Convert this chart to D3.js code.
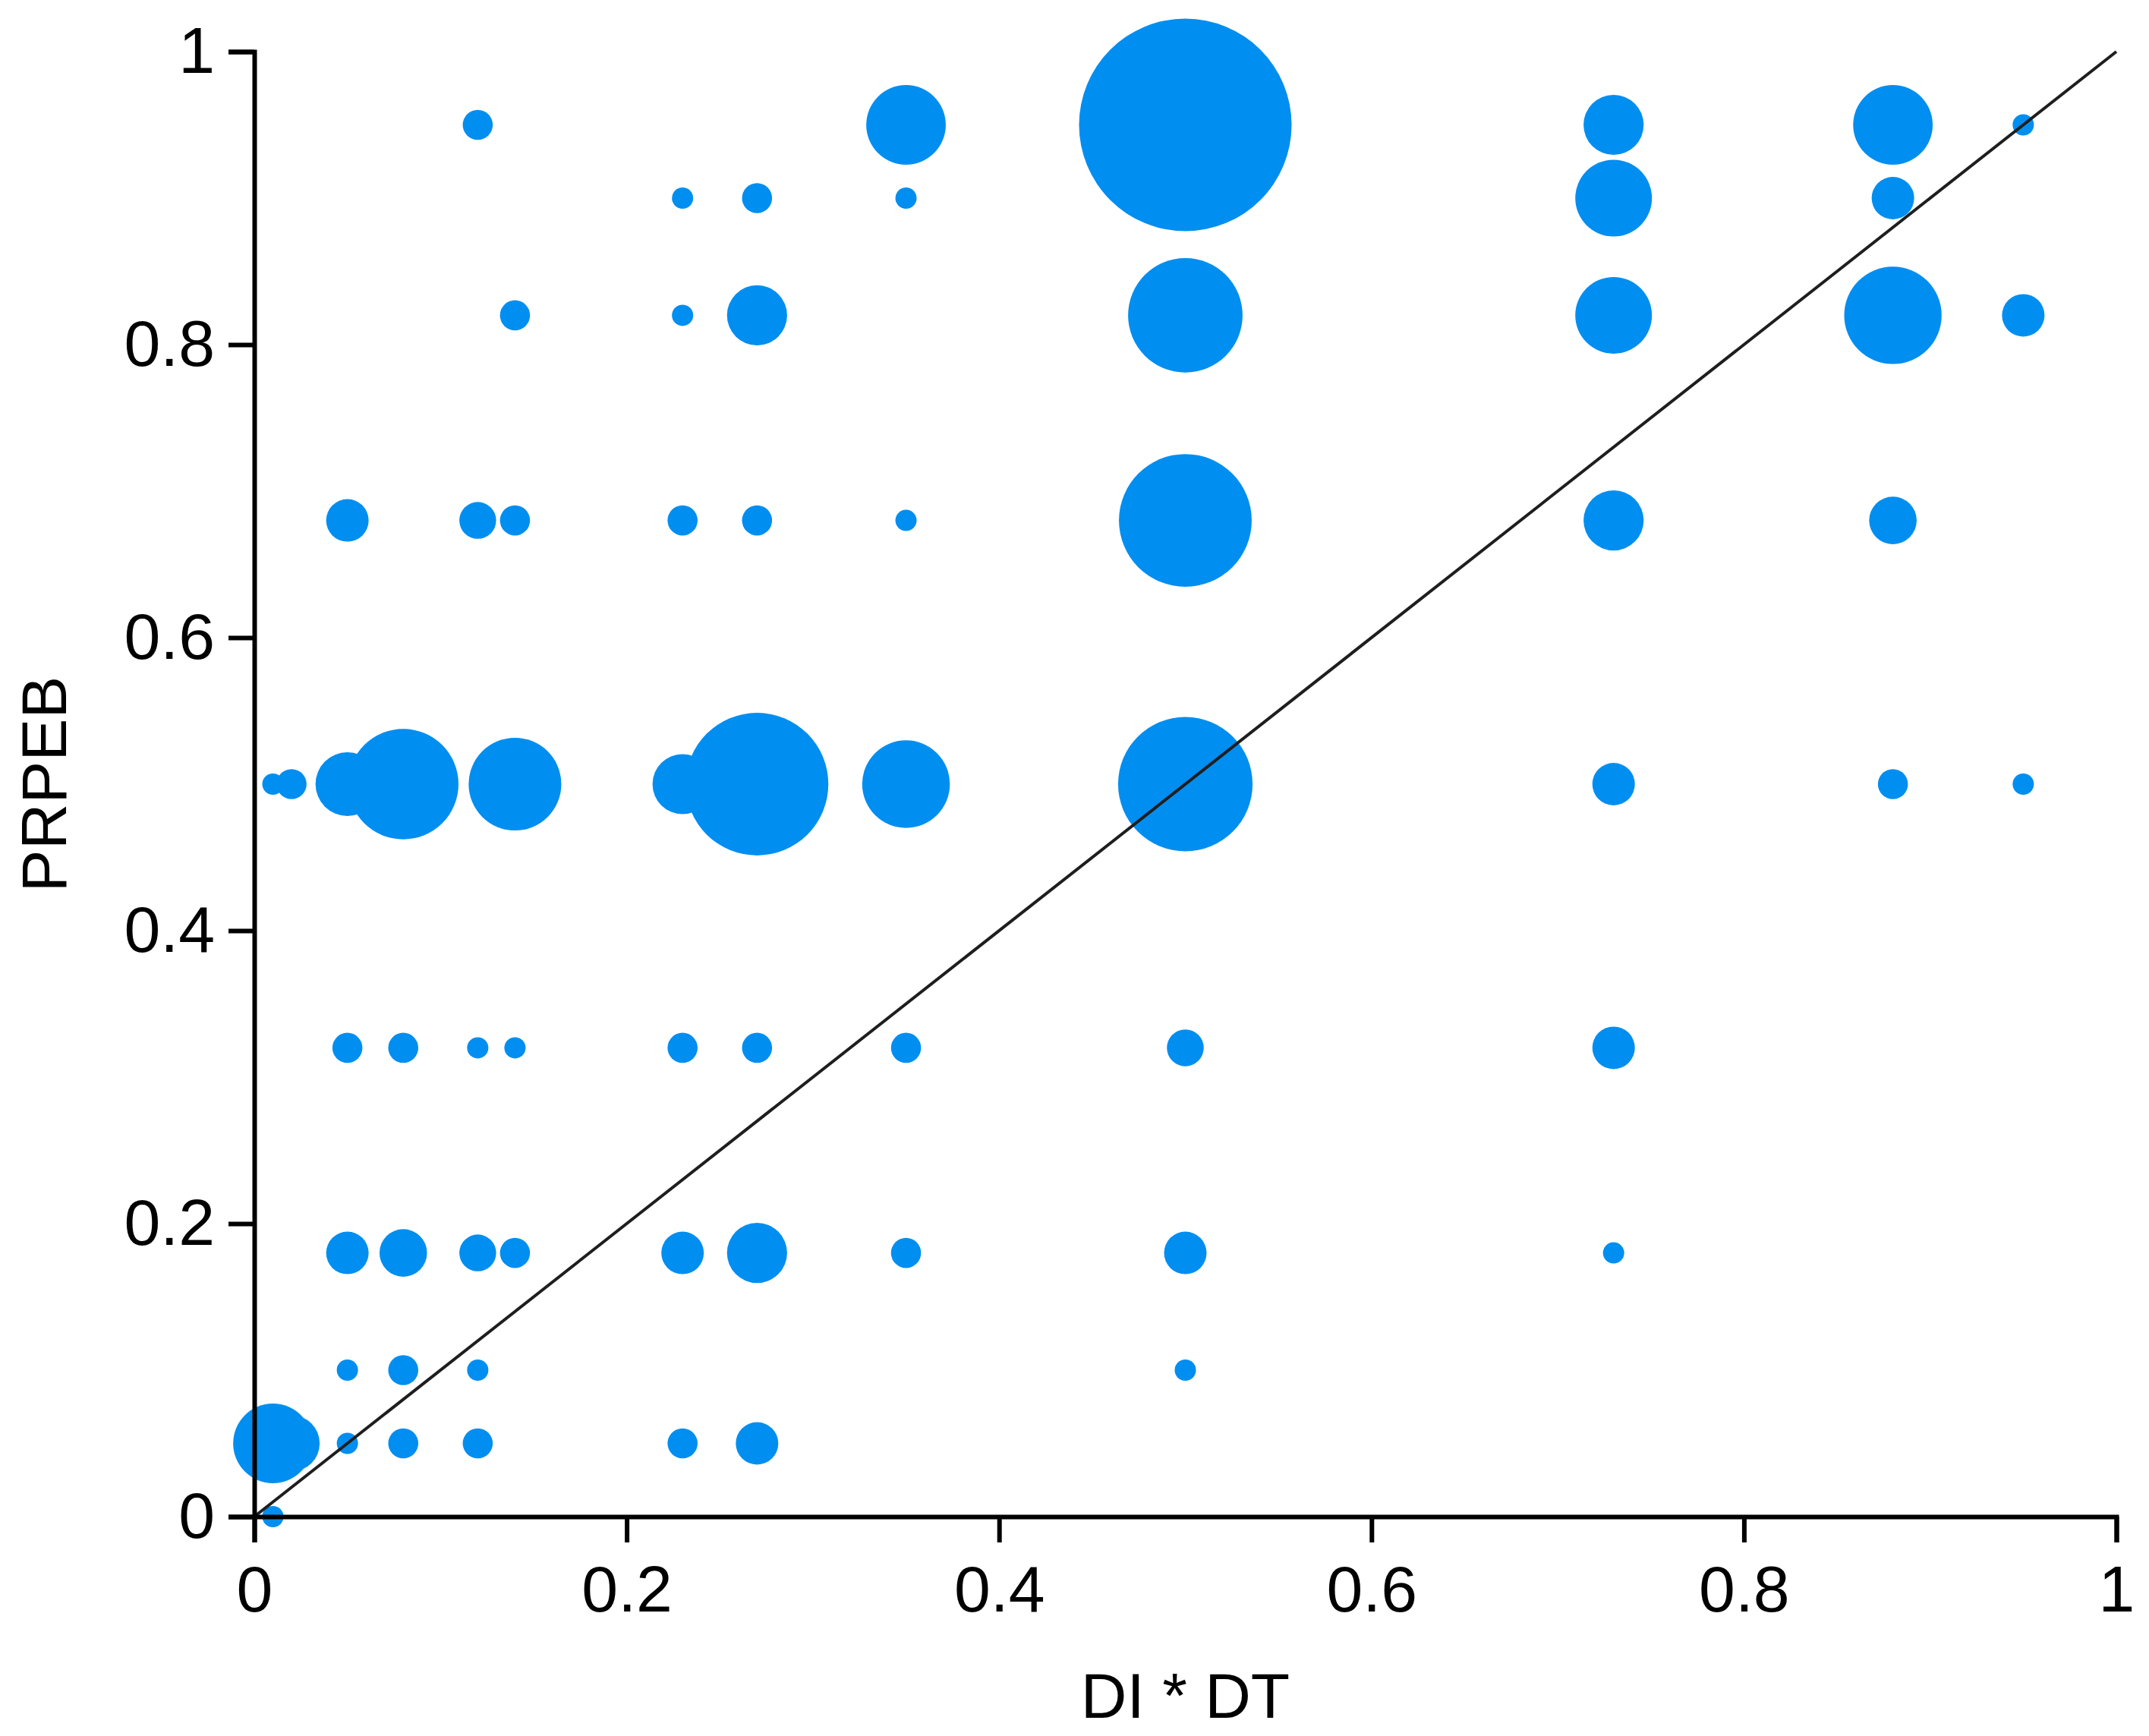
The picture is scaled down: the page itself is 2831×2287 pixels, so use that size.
<!DOCTYPE html>
<html>
<head>
<meta charset="utf-8">
<script src="https://cdn.jsdelivr.net/npm/d3@7"></script>
<style>
    body { margin: 0; background: #fff; }
    .axis text { font-family: "Liberation Sans", Arial, sans-serif; font-size: 86px; fill: #000; }
    .axis path, .axis line { stroke: #000; stroke-width: 6px; }
    .title { font-family: "Liberation Sans", Arial, sans-serif; font-size: 84px; fill: #000; }
</style>
</head>
<body>
<div id="my_dataviz"></div>
<script>
// DI * DT value of each bubble
let diDt = [0.12, 0.35, 0.5, 0.73, 0.88, 0.95,
    0.23, 0.27, 0.35, 0.73, 0.88,
    0.14, 0.23, 0.27, 0.5, 0.73, 0.88, 0.95,
    0.05, 0.12, 0.14, 0.23, 0.27, 0.35, 0.5, 0.73, 0.88,
    0.01, 0.02, 0.05, 0.08, 0.14, 0.23, 0.27, 0.35, 0.5, 0.73, 0.88, 0.95,
    0.05, 0.08, 0.12, 0.14, 0.23, 0.27, 0.35, 0.5, 0.73,
    0.05, 0.08, 0.12, 0.14, 0.23, 0.27, 0.35, 0.5, 0.73,
    0.05, 0.08, 0.12, 0.5,
    0.01, 0.02, 0.05, 0.08, 0.12, 0.23, 0.27,
    0.01];
// PRPEB value of each bubble
let prpeb = [0.95, 0.95, 0.95, 0.95, 0.95, 0.95,
    0.9, 0.9, 0.9, 0.9, 0.9,
    0.82, 0.82, 0.82, 0.82, 0.82, 0.82, 0.82,
    0.68, 0.68, 0.68, 0.68, 0.68, 0.68, 0.68, 0.68, 0.68,
    0.5, 0.5, 0.5, 0.5, 0.5, 0.5, 0.5, 0.5, 0.5, 0.5, 0.5, 0.5,
    0.32, 0.32, 0.32, 0.32, 0.32, 0.32, 0.32, 0.32, 0.32,
    0.18, 0.18, 0.18, 0.18, 0.18, 0.18, 0.18, 0.18, 0.18,
    0.1, 0.1, 0.1, 0.1,
    0.05, 0.05, 0.05, 0.05, 0.05, 0.05, 0.05,
    0];
// number of cases at each point (bubble area)
let cases = [2, 14, 100, 8, 14, 1,
    1, 2, 1, 13, 4,
    2, 1, 8, 29, 13, 21, 4,
    4, 3, 2, 2, 2, 1, 39, 8, 5,
    1, 2, 9, 27, 19, 8, 45, 17, 40, 4, 2, 1,
    2, 2, 1, 1, 2, 2, 2, 3, 4,
    4, 5, 3, 2, 4, 8, 2, 4, 1,
    1, 2, 1, 1,
    14, 7, 1, 2, 2, 2, 4,
    1];

let tickVals = [0, 0.2, 0.4, 0.6, 0.8, 1];
let xTitle = "DI * DT";
let yTitle = "PRPEB";

let data = [];
for (let i in diDt){
    data.push({x: diDt[i], y: prpeb[i], n: cases[i]});
}

var margin = {top: 68, right: 43, bottom: 289, left: 335},
    width = 2831 - margin.left - margin.right,
    height = 2287 - margin.top - margin.bottom;

var svg = d3.select("#my_dataviz")
    .append("svg")
    .attr("width", width + margin.left + margin.right)
    .attr("height", height + margin.top + margin.bottom)
    .append("g")
    .attr("transform", "translate(" + margin.left + "," + margin.top + ")");

var x = d3.scaleLinear().domain([0, 1]).range([0, width]);
var y = d3.scaleLinear().domain([0, 1]).range([height, 0]);
var r = d3.scaleSqrt().domain([0, 100]).range([0, 140]);

// bubbles
svg.append("g")
    .selectAll("circle")
    .data(data)
    .enter()
    .append("circle")
    .attr("cx", function (d) { return x(d.x); })
    .attr("cy", function (d) { return y(d.y); })
    .attr("r", function (d) { return r(d.n); })
    .style("fill", "#008ef0");

// y = x reference line
svg.append("line")
    .attr("x1", x(0))
    .attr("y1", y(0))
    .attr("x2", x(1))
    .attr("y2", y(1))
    .style("stroke", "#1e1e1e")
    .style("stroke-width", 4);

svg.append("g")
    .attr("class", "axis")
    .attr("transform", "translate(0," + height + ")")
    .call(d3.axisBottom(x).tickValues(tickVals).tickFormat(d3.format("~g"))
        .tickSize(34).tickPadding(30));

svg.append("g")
    .attr("class", "axis")
    .call(d3.axisLeft(y).tickValues(tickVals).tickFormat(d3.format("~g"))
        .tickSize(34).tickPadding(18));

svg.append("text")
    .attr("class", "title")
    .attr("text-anchor", "middle")
    .attr("x", width / 2)
    .attr("y", height + 265)
    .text(xTitle);

svg.append("text")
    .attr("class", "title")
    .attr("text-anchor", "middle")
    .attr("transform", "rotate(-90)")
    .attr("x", -height / 2)
    .attr("y", -248)
    .text(yTitle);
</script>
</body>
</html>
